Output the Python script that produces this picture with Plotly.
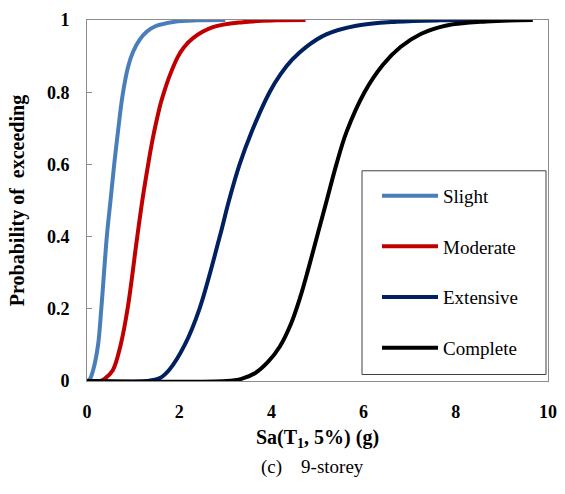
import plotly.graph_objects as go

# ---- data ----
slight_x = [0.0, 0.06, 0.145, 0.24, 0.31, 0.43, 0.51, 0.59, 0.68, 0.77, 0.89, 1.0, 1.14, 1.30, 1.47, 1.9, 2.4, 3.0]
slight_y = [0.0, 0.005, 0.036, 0.10, 0.20, 0.40, 0.50, 0.60, 0.70, 0.79, 0.87, 0.912, 0.945, 0.968, 0.982, 0.995, 0.999, 1.0]

moderate_x = [0.0, 0.28, 0.38, 0.56, 0.73, 0.88, 1.08, 1.20, 1.34, 1.42, 1.50, 1.60, 1.69, 1.80, 1.97, 2.10, 2.30, 2.73, 3.38, 4.1, 4.74]
moderate_y = [0.0, 0.0, 0.006, 0.030, 0.10, 0.20, 0.39, 0.50, 0.61, 0.667, 0.716, 0.77, 0.808, 0.848, 0.898, 0.924, 0.950, 0.980, 0.994, 0.999, 1.0]

extensive_x = [0.0, 1.3, 1.58, 1.79, 2.12, 2.44, 2.88, 3.08, 3.31, 3.57, 3.96, 4.20, 4.45, 4.75, 5.19, 5.84, 6.71, 7.65, 9.65]
extensive_y = [0.0, 0.0, 0.008, 0.032, 0.10, 0.20, 0.40, 0.50, 0.60, 0.69, 0.80, 0.85, 0.89, 0.925, 0.960, 0.984, 0.995, 0.999, 1.0]

complete_x = [0.0, 3.02, 3.35, 3.65, 3.92, 4.18, 4.43, 4.62, 4.80, 5.01, 5.20, 5.41, 5.63, 6.02, 6.42, 6.80, 7.25, 7.80, 8.66, 9.67]
complete_y = [0.0, 0.0, 0.006, 0.022, 0.052, 0.095, 0.16, 0.23, 0.31, 0.41, 0.50, 0.60, 0.69, 0.80, 0.876, 0.925, 0.962, 0.985, 0.996, 1.0]

series_names = ["Slight", "Moderate", "Extensive", "Complete"]
series_colors = ["#4A7EBB", "#C00000", "#002060", "#000000"]

x_ticks = [0, 2, 4, 6, 8, 10]
y_ticks = [0, 0.2, 0.4, 0.6, 0.8, 1]
y_tick_text = ["0", "0.2", "0.4", "0.6", "0.8", "1"]

xs = [slight_x, moderate_x, extensive_x, complete_x]
ys = [slight_y, moderate_y, extensive_y, complete_y]

SERIF = "Liberation Serif, Times New Roman, serif"

# plot area in pixels
L, R, T, B = 87, 548, 20, 381.5
W_PLOT, H_PLOT = R - L, B - T


def px_x(p):
    return (p - L) / W_PLOT


def px_y(p):
    return (B - p) / H_PLOT


fig = go.Figure()
for name, color, x, y in zip(series_names, series_colors, xs, ys):
    fig.add_trace(go.Scatter(
        x=x, y=y, mode="lines", name=name, legendgroup=name,
        line=dict(color=color, width=4, shape="spline", smoothing=1.0),
    ))

fig.update_layout(
    width=565, height=494,
    paper_bgcolor="white", plot_bgcolor="white",
    margin=dict(l=L, r=565 - R, t=T, b=494 - B, autoexpand=False),
    font=dict(family=SERIF, color="#000000"),
    showlegend=True,
    legend=dict(
        x=px_x(377), y=px_y(177), xanchor="left", yanchor="top",
        borderwidth=0, bgcolor="rgba(0,0,0,0)",
        font=dict(family=SERIF, size=19, color="#000000"),
        tracegroupgap=23, itemwidth=56,
    ),
    shapes=[dict(
        type="rect", xref="paper", yref="paper",
        x0=px_x(362), x1=px_x(546), y0=px_y(375), y1=px_y(171),
        line=dict(color="#404040", width=1), fillcolor="white", layer="above",
    )],
    xaxis=dict(
        range=[0, 10], tickvals=x_ticks, ticks="", automargin=False,
        showgrid=False, zeroline=False,
        showline=True, linecolor="#8C8C8C", linewidth=1, mirror=True,
        tickfont=dict(family=SERIF, size=18, color="#000000", weight="bold"),
        ticklabelstandoff=14,
        title=dict(text="<b>Sa(T<sub>1</sub>, 5%) (g)</b>",
                   font=dict(family=SERIF, size=20, color="#000000"), standoff=9),
    ),
    yaxis=dict(
        range=[0, 1], tickvals=y_ticks, ticktext=y_tick_text, automargin=False,
        ticks="inside", ticklen=5, tickcolor="#8C8C8C",
        showgrid=False, zeroline=False,
        showline=True, linecolor="#8C8C8C", linewidth=1, mirror=True,
        tickfont=dict(family=SERIF, size=18, color="#000000", weight="bold"),
        ticklabelstandoff=13,
        title=dict(text="<b>Probability of&nbsp; exceeding</b>",
                   font=dict(family=SERIF, size=20, color="#000000"), standoff=16),
    ),
    annotations=[dict(
        text="(c)&nbsp;&nbsp;&nbsp;&nbsp;9-storey",
        x=px_x(312), y=px_y(468),
        xref="paper", yref="paper", xanchor="center", yanchor="middle",
        showarrow=False, font=dict(family=SERIF, size=19, color="#000000"),
    )],
)

fig.write_html(
    "out.html",
    config={"displayModeBar": False},
    post_script="document.body.style.margin='0';document.body.style.overflow='hidden';",
)
